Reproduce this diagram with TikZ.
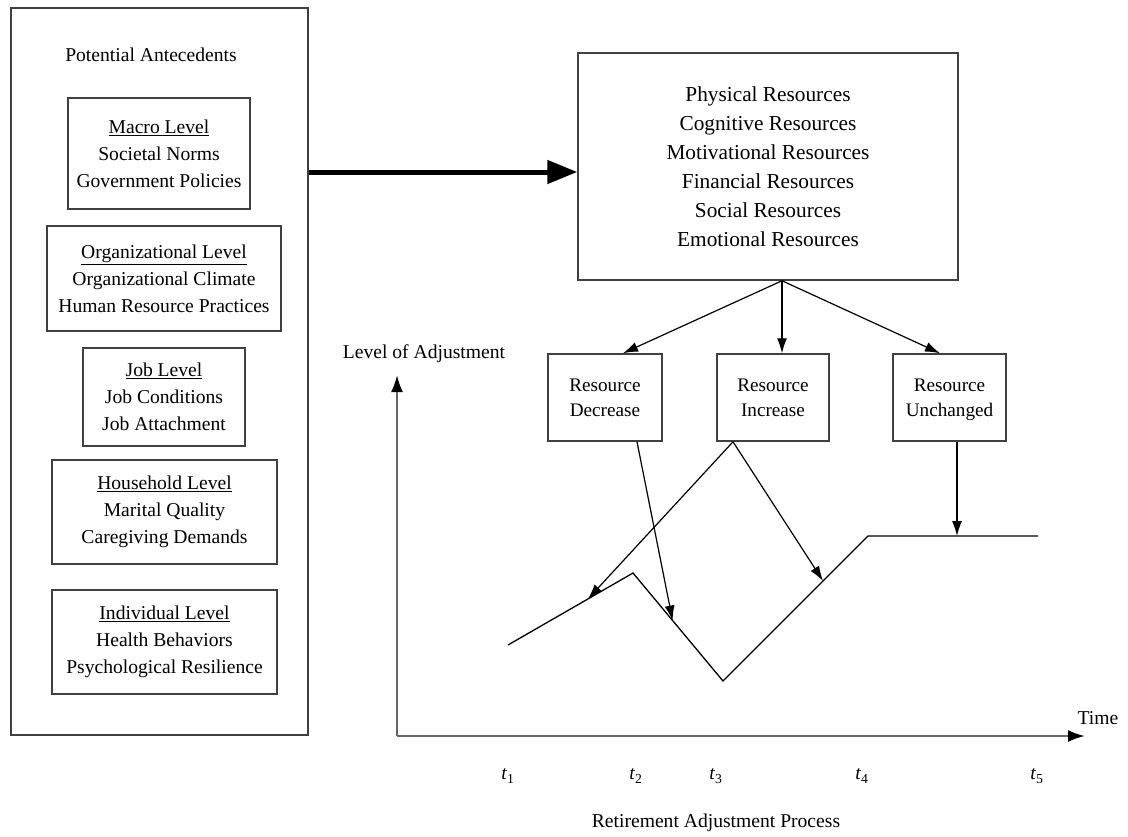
\documentclass[tikz,border=0pt]{standalone}
\usepackage{fontspec}
\setmainfont{Liberation Serif}
\usetikzlibrary{arrows.meta,calc}
\def\boxfont{\fontsize{19.6}{27}\selectfont}
\def\resfont{\fontsize{21.3}{29}\selectfont}

\begin{document}
\begin{tikzpicture}[x=1pt,y=-1pt,>={Latex[length=15pt,width=10pt]}]
            \tikzstyle{level box}=[draw=black!75,line width=1.5pt,align=center,inner sep=0pt,font=\boxfont]
            \tikzstyle{change box}=[level box,minimum height=87pt,text depth=0pt,font=\fontsize{19.2}{25.5}\selectfont]
            \tikzstyle{link}=[->,line width=1.2pt]
            \tikzstyle{time axis}=[-{Latex[length=17pt,width=12pt,color=black]},draw=black!60,line width=2.4pt]
            \tikzstyle{curve}=[line width=1.3pt]
            \tikzstyle{caption text}=[font=\boxfont]

            \useasboundingbox (0,0) rectangle (1128,836);

            % Draw the antecedent column
            \node[level box,minimum width=297pt,minimum height=727pt] (antecedents) at (159.5,371.5) {};
            \node[caption text] (title) at (151,55) {Potential Antecedents};
            \node[level box,minimum width=182pt,minimum height=111pt] (macro) at (159,153.5)
                {\underline{Macro Level}\\Societal Norms\\Government Policies};
            \node[level box,minimum width=234pt,minimum height=105pt] (org) at (164,278.5)
                {\underline{Organizational Level}\\Organizational Climate\\Human Resource Practices};
            \node[level box,minimum width=162pt,minimum height=98pt] (job) at (164,397)
                {\underline{Job Level}\\Job Conditions\\Job Attachment};
            \node[level box,minimum width=225pt,minimum height=104pt] (household) at (164.5,512)
                {\underline{Household Level}\\Marital Quality\\Caregiving Demands};
            \node[level box,minimum width=225pt,minimum height=104pt] (individual) at (164.5,642)
                {\underline{Individual Level}\\Health Behaviors\\Psychological Resilience};

            % Resources and the three kinds of change
            \node[level box,minimum width=380pt,minimum height=227pt,font=\resfont] (resources) at (768,166.5)
                {Physical Resources\\Cognitive Resources\\Motivational Resources\\Financial Resources\\Social Resources\\Emotional Resources};
            \node[change box,minimum width=114pt] (decrease) at (605,397.5) {Resource\\Decrease};
            \node[change box,minimum width=112pt] (increase) at (773,397.5) {Resource\\Increase};
            \node[change box,minimum width=113pt] (unchanged) at (949.5,397.5) {Resource\\Unchanged};

            \draw[-{Triangle[length=30pt,width=23pt]},line width=5pt] (antecedents.east |- 0,172) -- (resources.west |- 0,172);

            \coordinate (fork) at ([xshift=14]resources.south);
            \draw[link] (fork) -- ([xshift=18]decrease.north);
            \draw[link] (fork) -- ([xshift=9]increase.north);
            \draw[link] (fork) -- ([xshift=-9.5]unchanged.north);

            % Axes and the adjustment path
            \coordinate (origin) at (397,736);
            \draw[time axis] (origin) -- (397,375);
            \draw[time axis] (origin) -- (1085,736);
            \node[caption text] (level) at (424,354) {Level of Adjustment};
            \node[caption text] (time) at (1098,718) {Time};
            \foreach \name / \x in {1/508,2/636,3/716,4/862,5/1037}
                \node[caption text] (t-\name) at (\x,776) {\textit{t}\textsubscript{\name}};
            \node[caption text] (process) at (716,823) {Retirement Adjustment Process};

            \coordinate (p1) at (508,645);
            \coordinate (p2) at (633,573);
            \coordinate (p3) at (723,681);
            \coordinate (p4) at (868,536);
            \coordinate (p5) at (1038,536);
            \draw[curve] (p1) -- (p2) -- (p3) -- (p4) -- (p5);

            \draw[link] ([xshift=32]decrease.south) -- ($(p2)!0.44!(p3)$);
            \draw[link] ([xshift=-40]increase.south) -- ($(p1)!0.64!(p2)$);
            \draw[link] ([xshift=-40]increase.south) -- ($(p3)!0.69!(p4)$);
            \draw[link] ([xshift=7.5]unchanged.south) -- ([xshift=7.5]unchanged.south |- p4);
        \end{tikzpicture}
\end{document}
